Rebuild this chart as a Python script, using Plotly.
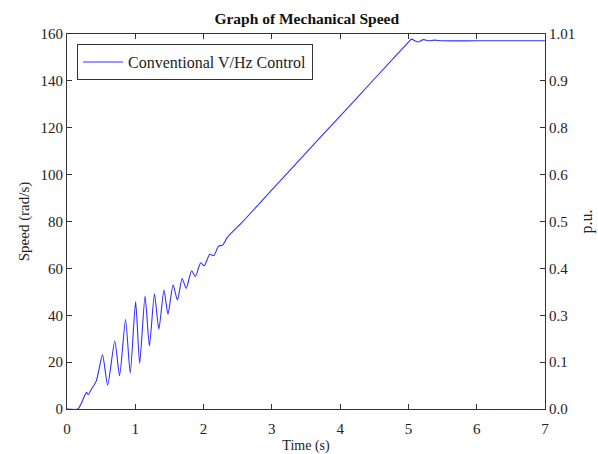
import plotly.graph_objects as go

# Data
time_s = [0.0, 0.16, 0.22, 0.285, 0.31, 0.36, 0.43, 0.52, 0.595, 0.70, 0.77, 0.857,
          0.926, 1.005, 1.064, 1.143, 1.207, 1.281, 1.345, 1.42, 1.479, 1.553, 1.617,
          1.686, 1.745, 1.825, 1.879, 1.958, 2.01, 2.09, 2.15, 2.22, 2.28, 2.35, 2.42,
          2.556, 3.0, 3.5, 4.0, 4.5, 5.0, 5.045, 5.1, 5.15, 5.22, 5.3, 5.38, 5.5, 6.0, 7.0]
speed = [0.0, 0.0, 3.0, 7.1, 6.2, 8.5, 12.0, 23.1, 10.2, 29.0, 14.2, 38.3,
         15.3, 45.8, 19.4, 48.2, 26.9, 49.2, 34.0, 50.8, 40.4, 53.0, 46.5,
         55.7, 51.5, 59.0, 56.5, 62.4, 61.1, 66.0, 65.5, 69.5, 69.9, 73.3, 75.5,
         79.4, 93.5, 109.3, 125.0, 140.8, 156.5, 157.8, 157.0, 156.6, 157.6, 157.1, 157.4, 157.1, 157.1, 157.1]

left_ticks = [0, 20, 40, 60, 80, 100, 120, 140, 160]
pu_labels = ["0.0", "0.1", "0.3", "0.4", "0.5", "0.6", "0.8", "0.9", "1.01"]
x_ticks = [0, 1, 2, 3, 4, 5, 6, 7]
series_name = "Conventional V/Hz Control"

FONT = "Liberation Serif, Times New Roman, serif"
AX = "#333333"
TICKFONT = dict(family=FONT, size=15, color="#222222")

fig = go.Figure()
fig.add_trace(go.Scatter(x=time_s, y=speed, mode="lines", name=series_name,
                         line=dict(color="#3030ff", width=1.1, shape="spline", smoothing=0.6)))
fig.add_trace(go.Scatter(x=time_s, y=speed, mode="lines", yaxis="y2", showlegend=False,
                         hoverinfo="skip", line=dict(color="rgba(0,0,0,0)", width=0)))

fig.update_layout(
    width=598, height=454,
    margin=dict(l=67, r=53, t=34, b=45),
    paper_bgcolor="white", plot_bgcolor="white",
    font=dict(family=FONT, size=14, color="#222222"),
    title=dict(text="<b>Graph of Mechanical Speed</b>", x=0.513, xanchor="center",
               y=0.960, yanchor="middle", font=dict(size=15.5, family=FONT, color="#111111")),
    xaxis=dict(range=[0, 7], tickvals=x_ticks, ticks="inside", ticklen=5, tickcolor=AX,
               showline=True, linecolor=AX, linewidth=1, mirror="ticks", showgrid=False,
               zeroline=False, automargin=False, tickfont=TICKFONT, ticklabelstandoff=6,
               title=dict(text="Time (s)", standoff=4,
                          font=dict(family=FONT, size=14, color="#222222"))),
    yaxis=dict(range=[0, 160], tickvals=left_ticks, ticks="inside", ticklen=5, tickcolor=AX,
               showline=True, linecolor=AX, linewidth=1, showgrid=False, zeroline=False,
               automargin=False, tickfont=TICKFONT,
               title=dict(text="Speed (rad/s)", standoff=7,
                          font=dict(family=FONT, size=15, color="#222222"))),
    yaxis2=dict(range=[0, 160], overlaying="y", side="right", tickvals=left_ticks,
                ticktext=pu_labels, ticks="inside", ticklen=5, tickcolor=AX,
                showline=True, linecolor=AX, linewidth=1, showgrid=False, zeroline=False,
                automargin=False, tickfont=TICKFONT,
                title=dict(text="p.u.", standoff=6,
                           font=dict(family=FONT, size=16, color="#222222"))),
    legend=dict(x=0.021, y=0.973, xanchor="left", yanchor="top",
                bordercolor="#333333", borderwidth=1, bgcolor="white", itemwidth=40,
                font=dict(size=16, family=FONT), tracegroupgap=0),
    showlegend=True,
)

fig.write_html("out.html")
